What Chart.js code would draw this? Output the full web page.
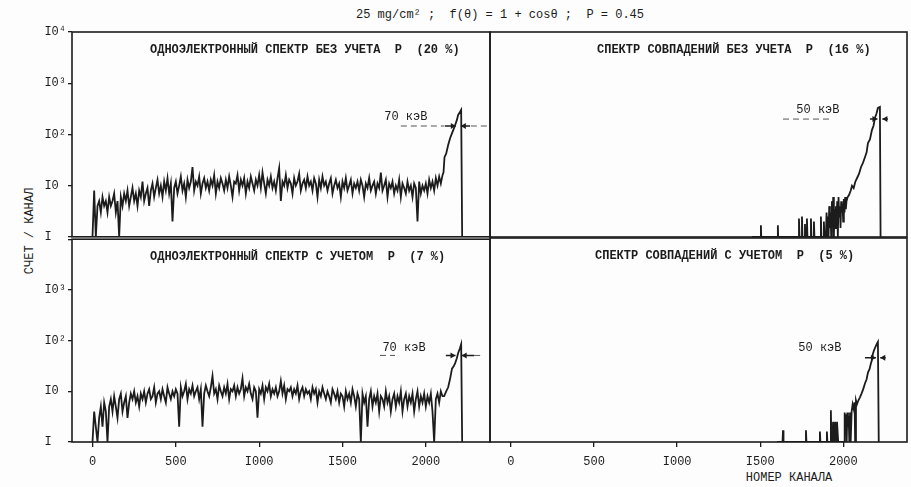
<!DOCTYPE html>
<html>
<head>
<meta charset="utf-8">
<script src="https://cdn.jsdelivr.net/npm/chart.js@4.4.0/dist/chart.umd.min.js"></script>
<style>
body{margin:0;background:#fdfdfd;width:911px;height:487px;position:relative;overflow:hidden;font-family:"Liberation Mono",monospace;color:#1c1c1c}
canvas{position:absolute}
.lbl{position:absolute;white-space:pre;font-size:12px;transform:translate(-50%,-50%)}
</style>
</head>
<body>
<div class="lbl" style="left:500px;top:15px">25 mg/cm² ;  f(θ) = 1 + cosθ ;  P = 0.45</div>
<div class="lbl" style="left:30px;top:231px;transform:translate(-50%,-50%) rotate(-90deg)">СЧЕТ / КАНАЛ</div>
<div class="lbl" style="left:789px;top:478px">НОМЕР КАНАЛА</div>

<canvas id="tl" width="495" height="246" style="left:0;top:0"></canvas>
<canvas id="tr" width="426" height="240" style="left:485px;top:0"></canvas>
<canvas id="bl" width="495" height="257" style="left:0;top:230px"></canvas>
<canvas id="br" width="426" height="257" style="left:485px;top:230px"></canvas>

<script>
const ink = '#1c1c1c';
const mono = '"Liberation Mono", monospace';

// axis ticks
const yTicks = [1, 10, 100, 1000, 10000];
const yTickLabels = ['I  ', 'I0 ', 'I0²', 'I0³', 'I0⁴'];
const xTicks = [0, 500, 1000, 1500, 2000];
const xTickLabels = ['0', '500', 'I000', 'I500', '2000'];

// single-electron spectra, one value every 10 channels from channel 0
const noiseStep = 10;
const tlNoise = [
  1, 8, 1, 4, 5, 3, 6, 4, 5, 3,
  6, 4, 5, 7, 3, 5, 1, 6, 4, 7,
  5, 8, 4, 6, 9, 5, 7, 4, 8, 6,
  12, 5, 7, 9, 4, 8, 11, 6, 9, 13,
  7, 10, 6, 12, 8, 14, 7, 11, 2, 9,
  12, 7, 10, 15, 8, 11, 6, 13, 9, 12,
  23, 8, 12, 10, 15, 7, 11, 14, 9, 12,
  8, 13, 10, 16, 7, 12, 9, 14, 11, 8,
  13, 9, 15, 10, 6, 12, 11, 16, 8, 13,
  10, 14, 7, 12, 9, 15, 11, 8, 13, 10,
  16, 9, 18, 11, 7, 13, 10, 15, 9, 12,
  8, 14, 22, 5, 12, 10, 16, 9, 13, 11,
  7, 14, 10, 12, 17, 8, 11, 13, 9, 15,
  10, 12, 8, 14, 11, 6, 13, 9, 15, 10,
  12, 8, 11, 14, 7, 10, 13, 9, 11, 6,
  12, 9, 14, 8, 10, 13, 7, 11, 9, 12,
  8, 13, 10, 6, 11, 9, 14, 8, 10, 12,
  7, 11, 9, 18, 8, 10, 13, 6, 11, 9,
  12, 7, 10, 8, 13, 6, 11, 9, 7, 12,
  8, 10, 6, 11, 9, 2, 12, 7, 10, 8,
  11, 7, 13, 9, 12, 8, 14, 10, 15, 11,
  16
];
const tlPeakCh     = [2106, 2112, 2122, 2134, 2146, 2158, 2168, 2176, 2186, 2194, 2204, 2212, 2218];
const tlPeakCounts = [18, 36, 42, 62, 85, 107, 130, 153, 190, 240, 270, 300, 1];

const blNoise = [
  1, 4, 2, 1, 3, 5, 2, 6, 4, 1,
  5, 7, 4, 8, 5, 3, 7, 9, 4, 6,
  8, 3, 6, 9, 7, 10, 6, 8, 5, 9,
  7, 10, 6, 9, 11, 7, 8, 12, 6, 9,
  10, 7, 11, 8, 6, 12, 9, 7, 10, 8,
  11, 9, 2, 12, 8, 10, 14, 7, 11, 9,
  13, 8, 10, 12, 7, 11, 2, 9, 13, 10,
  8, 12, 20, 9, 11, 7, 13, 10, 8, 12,
  9, 14, 7, 11, 10, 13, 8, 12, 9, 11,
  18, 8, 12, 10, 14, 9, 7, 12, 10, 3,
  11, 9, 13, 7, 12, 10, 14, 8, 11, 9,
  12, 8, 10, 16, 9, 13, 7, 11, 10, 12,
  8, 11, 9, 13, 7, 10, 12, 8, 11, 9,
  10, 7, 12, 9, 11, 6, 10, 8, 12, 9,
  7, 10, 8, 6, 11, 9, 7, 10, 6, 9,
  8, 5, 10, 7, 9, 6, 11, 8, 5, 9,
  7, 1, 9, 6, 8, 2, 7, 10, 5, 8,
  6, 9, 4, 8, 7, 5, 10, 6, 8, 4,
  7, 9, 5, 8, 6, 10, 4, 7, 9, 5,
  8, 6, 9, 4, 7, 10, 5, 8, 6, 9,
  5, 8, 6, 9, 4, 1, 7, 9, 6, 10,
  8
];
const blPeakCh     = [2110, 2122, 2134, 2146, 2157, 2167, 2176, 2186, 2194, 2204, 2212, 2218];
const blPeakCounts = [8, 10, 12, 18, 28, 31, 36, 45, 57, 70, 85, 1];

// coincidence spectra
const trChannels = [1450, 1503, 1504, 1506, 1605, 1606, 1608, 1730, 1733, 1736,
  1748, 1751, 1754, 1766, 1769, 1772, 1778, 1781, 1784, 1802, 1805, 1808,
  1820, 1823, 1826, 1862, 1865, 1868, 1880, 1883, 1886,
  1895, 1899, 1903, 1907, 1911, 1915, 1919, 1923, 1927, 1931, 1935, 1939, 1943, 1947, 1951, 1955,
  1959, 1963, 1967, 1971, 1975, 1979, 1983, 1987, 1991, 1995, 1999, 2003, 2007, 2011, 2015, 2019,
  2026, 2034, 2044, 2052, 2062, 2072, 2082, 2094, 2106, 2118, 2130, 2140, 2148, 2160,
  2172, 2182, 2190, 2200, 2208, 2220, 2224];
const trCounts = [1, 1, 1.7, 1, 1, 1.7, 1, 1, 2.3, 1,
  1, 2.5, 1, 1, 1.8, 1, 1, 2.3, 1, 1, 2.3, 1,
  1, 2.0, 1, 1, 2.5, 1, 1, 2.0, 1,
  1, 3, 1, 2.5, 1, 4, 1.5, 3, 1, 5, 2, 6, 1, 3.5, 1.5, 4,
  2, 5, 1, 6, 2.5, 4, 1.5, 5, 3, 4.5, 2, 5.5, 3, 6, 3.5, 5,
  6, 6.6, 8, 10, 9, 12, 14, 17, 23, 28, 36, 45, 68, 80,
  122, 150, 210, 260, 330, 345, 1];

const brChannels = [1600, 1634, 1637, 1640, 1772, 1775, 1778, 1856, 1859, 1862,
  1898, 1901, 1904, 1922, 1925, 1928,
  1935, 1938, 1942, 1946, 1950, 1954, 1958, 1962, 1966, 1969,
  2004, 2008, 2012, 2016, 2020, 2024, 2028, 2032, 2036, 2040, 2044,
  2050, 2056, 2062, 2068, 2071, 2076, 2082, 2090, 2100, 2110, 2120, 2130,
  2140, 2148, 2158, 2166, 2172, 2178, 2184, 2192, 2202, 2208, 2213];
const brCounts = [1, 1, 1.7, 1, 1, 1.7, 1, 1, 1.6, 1,
  1, 1.6, 1, 1, 4.2, 1,
  1, 2.5, 2.5, 1, 2.5, 2.5, 1, 2.5, 2.5, 1,
  1, 3.8, 1.5, 3.5, 1, 3.8, 2, 3.2, 1, 3.8, 1,
  4, 5.5, 4.5, 6, 1, 6.5, 5.5, 6.5, 7.5, 9, 11, 14,
  17, 23, 27, 35, 40, 54, 62, 72, 85, 92, 1];

// FWHM notes, in channels / counts
const notes = {
  tl: {text: '70 кэВ', ch: 1880, count: 219, level: 146, dashes: [[1850, 2112], [2270, 2385]], arrow: [2115, 2180, 2210, 2265]},
  tr: {text: '50 кэВ', ch: 1847, count: 300, level: 200, dashes: [[1637, 1931]], arrow: [2160, 2205, 2235, 2268]},
  bl: {text: '70 кэВ', ch: 1869, count: 73, level: 51, dashes: [[1725, 1815], [2290, 2335]], arrow: [2120, 2178, 2215, 2290]},
  br: {text: '50 кэВ', ch: 1859, count: 70, level: 45, dashes: [], arrow: [2130, 2196, 2222, 2255]}
};

function noisePoints(counts) {
  return counts.map((c, i) => ({x: i * noiseStep, y: c}));
}
function pairPoints(ch, counts) {
  return ch.map((x, i) => ({x: x, y: counts[i]}));
}

const framePlugin = {
  id: 'frame',
  afterDraw(chart, args, o) {
    const a = chart.chartArea, c = chart.ctx;
    const xs = chart.scales.x, ys = chart.scales.y, n = o.note;
    c.save();
    c.strokeStyle = ink;
    c.lineWidth = 1.6;
    c.strokeRect(a.left, a.top, a.right - a.left, a.bottom - a.top);

    c.fillStyle = ink;
    c.textBaseline = 'middle';
    c.font = 'bold 12px ' + mono;
    c.fillText(o.title, a.left + o.titleDx, a.top + 18);

    c.font = '12px ' + mono;
    c.textAlign = 'center';
    c.fillText(n.text, xs.getPixelForValue(n.ch), ys.getPixelForValue(n.count));

    const y = ys.getPixelForValue(n.level);
    c.lineWidth = 1;
    c.strokeStyle = '#555';
    c.setLineDash([6, 4]);
    n.dashes.forEach(d => {
      c.beginPath();
      c.moveTo(xs.getPixelForValue(d[0]), y);
      c.lineTo(Math.min(xs.getPixelForValue(d[1]), a.right), y);
      c.stroke();
    });
    c.setLineDash([]);

    c.strokeStyle = ink;
    c.lineWidth = 1.5;
    const p = n.arrow.map(v => xs.getPixelForValue(v));
    c.beginPath();
    c.moveTo(p[0], y); c.lineTo(p[1], y);
    c.moveTo(p[3], y); c.lineTo(p[2], y);
    c.stroke();
    c.beginPath();
    c.moveTo(p[1], y); c.lineTo(p[1] - 5, y - 3); c.lineTo(p[1] - 5, y + 3); c.closePath();
    c.moveTo(p[2], y); c.lineTo(p[2] + 5, y - 3); c.lineTo(p[2] + 5, y + 3); c.closePath();
    c.fill();
    c.restore();
  }
};

const panels = [
  {id: 'tl', left: true, bottom: false, showTop: true, xMin: -123, xMax: 2385,
   pad: {top: 32, right: 5, bottom: 9, left: 0},
   data: noisePoints(tlNoise).concat(pairPoints(tlPeakCh, tlPeakCounts)),
   title: 'ОДНОЭЛЕКТРОННЫЙ СПЕКТР БЕЗ УЧЕТА  P  (20 %)', titleDx: 78, note: notes.tl},
  {id: 'tr', left: false, bottom: false, showTop: false, xMin: -126, xMax: 2383,
   pad: {top: 32, right: 4, bottom: 3, left: 5},
   data: pairPoints(trChannels, trCounts),
   title: 'СПЕКТР СОВПАДЕНИЙ БЕЗ УЧЕТА  P  (16 %)', titleDx: 107, note: notes.tr},
  {id: 'bl', left: true, bottom: true, showTop: false, xMin: -123, xMax: 2385,
   pad: {top: 8, right: 5, bottom: 0, left: 0},
   data: noisePoints(blNoise).concat(pairPoints(blPeakCh, blPeakCounts)),
   title: 'ОДНОЭЛЕКТРОННЫЙ СПЕКТР С УЧЕТОМ  P  (7 %)', titleDx: 78, note: notes.bl},
  {id: 'br', left: false, bottom: true, showTop: false, xMin: -126, xMax: 2383,
   pad: {top: 8, right: 4, bottom: 0, left: 5},
   data: pairPoints(brChannels, brCounts),
   title: 'СПЕКТР СОВПАДЕНИЙ С УЧЕТОМ  P  (5 %)', titleDx: 105, note: notes.br}
];

panels.forEach(p => {
  new Chart(document.getElementById(p.id), {
    type: 'line',
    data: {
      datasets: [{
        data: p.data,
        borderColor: ink,
        borderWidth: 1.8,
        pointRadius: 0,
        tension: 0,
        fill: false
      }]
    },
    options: {
      responsive: false,
      animation: false,
      events: [],
      layout: {padding: p.pad},
      plugins: {
        legend: {display: false},
        tooltip: {enabled: false},
        frame: {title: p.title, titleDx: p.titleDx, note: p.note}
      },
      scales: {
        x: {
          type: 'linear', min: p.xMin, max: p.xMax, display: p.bottom,
          afterFit: s => { s.height = p.bottom ? 45 : 0; },
          afterBuildTicks: s => { s.ticks = xTicks.map(v => ({value: v})); },
          ticks: {
            autoSkip: false, maxRotation: 0, color: ink, padding: 8,
            font: {family: mono, size: 12},
            callback: v => xTickLabels[xTicks.indexOf(v)]
          },
          grid: {drawOnChartArea: false, tickLength: 5, color: ink, lineWidth: 1.3},
          border: {display: false}
        },
        y: {
          type: 'logarithmic', min: 1, max: 10000, display: p.left,
          afterFit: s => { s.width = p.left ? 72 : 0; },
          afterBuildTicks: s => { s.ticks = yTicks.map(v => ({value: v})); },
          ticks: {
            autoSkip: false, color: ink, padding: 2,
            font: {family: mono, size: 12},
            callback: v => (v === 10000 && !p.showTop) ? '' : yTickLabels[yTicks.indexOf(v)]
          },
          grid: {drawOnChartArea: false, tickLength: 4, color: ink, lineWidth: 1.3},
          border: {display: false}
        }
      }
    },
    plugins: [framePlugin]
  });
});
</script>
</body>
</html>
